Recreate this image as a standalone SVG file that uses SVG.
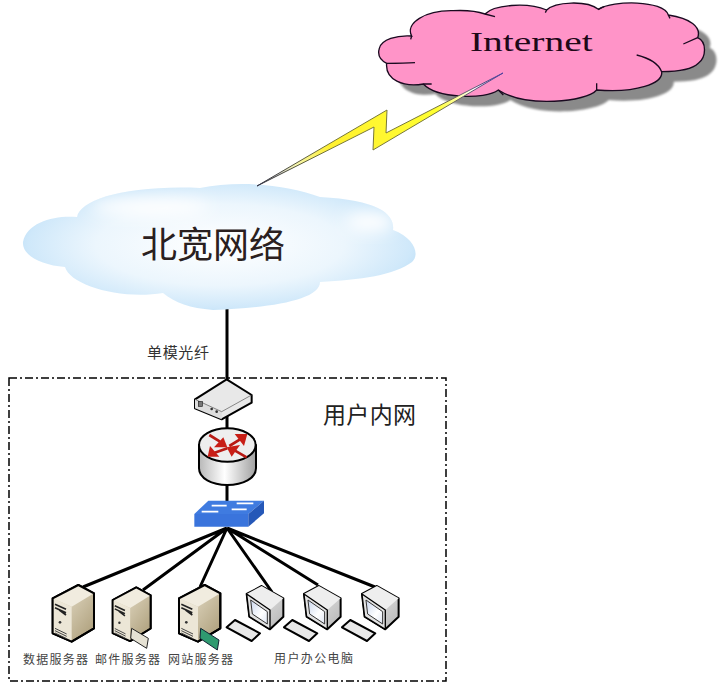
<svg xmlns="http://www.w3.org/2000/svg" width="722" height="683" viewBox="0 0 722 683">
<style>
.cjk{font-family:"Noto Sans CJK SC","Liberation Sans",sans-serif}
.lab{font-size:12px;fill:#444}
.conn{stroke:#000;stroke-width:3;fill:none;stroke-linecap:butt}
.ol{stroke:#000;stroke-width:6;stroke-linejoin:round}
</style>
<defs>
<path id="pinkShape" d="M28,145C35,118 80,105 125,108C105,70 165,30 250,32C290,30 325,35 345,42C370,15 470,5 530,30C555,5 650,0 685,28C730,0 880,0 895,45C960,55 995,80 983,113C1010,125 1010,170 985,190C965,210 920,215 875,215C880,250 800,280 680,270C650,305 470,325 385,270C345,300 200,295 160,252C100,262 45,240 50,190C30,180 22,165 28,145Z"/>
<radialGradient id="blue" cx="50%" cy="48%" r="55%">
<stop offset="0" stop-color="#ffffff"/><stop offset=".55" stop-color="#ecf6fd"/><stop offset=".85" stop-color="#cfe8fa"/><stop offset="1" stop-color="#aed8f5"/>
</radialGradient>
<linearGradient id="bolt" gradientUnits="userSpaceOnUse" x1="258" y1="186" x2="503" y2="73">
<stop offset="0" stop-color="#667"/><stop offset=".08" stop-color="#c8c8d0"/><stop offset=".16" stop-color="#f6f6b0"/><stop offset=".3" stop-color="#fff030"/><stop offset=".72" stop-color="#ffff30"/><stop offset=".88" stop-color="#fff"/><stop offset="1" stop-color="#8070c0"/>
</linearGradient>
<linearGradient id="boltS" gradientUnits="userSpaceOnUse" x1="258" y1="186" x2="503" y2="73">
<stop offset="0" stop-color="#334"/><stop offset=".3" stop-color="#77773a"/><stop offset=".7" stop-color="#77773a"/><stop offset="1" stop-color="#5040a0"/>
</linearGradient>
<linearGradient id="cyl" x1="0" x2="1" y1="0" y2="0">
<stop offset="0" stop-color="#b8b8b8"/><stop offset=".45" stop-color="#ffffff"/><stop offset="1" stop-color="#a0a0a0"/>
</linearGradient>
<linearGradient id="tan" x1="0" x2="1" y1="0" y2="1">
<stop offset="0" stop-color="#efe8d6"/><stop offset="1" stop-color="#a99a75"/>
</linearGradient>
<linearGradient id="grayR" x1="0" x2="1" y1="0" y2="1">
<stop offset="0" stop-color="#f2f2f2"/><stop offset="1" stop-color="#b5b5b5"/>
</linearGradient>
<linearGradient id="scr" x1="0" x2="1" y1="0" y2="1">
<stop offset="0" stop-color="#c9d6ee"/><stop offset=".6" stop-color="#ffffff"/><stop offset="1" stop-color="#dfe6f4"/>
</linearGradient>
<filter id="blur2" x="-5%" y="-5%" width="110%" height="110%"><feGaussianBlur stdDeviation="2.5"/></filter>
<filter id="blur8" x="-40%" y="-60%" width="180%" height="220%"><feGaussianBlur stdDeviation="8"/></filter>
<clipPath id="blueClip"><path d="M23,242C27,222 55,215 77,217C80,200 125,185 200,188C240,180 290,185 320,197C380,200 395,215 393,230C415,238 420,255 412,262C395,275 360,280 320,282C320,300 270,308 213,310C190,308 175,303 163,293C120,300 70,285 65,267C40,265 22,255 23,242Z"/></clipPath>
<g id="srv">
<path class="ol" d="M128,85L205,45L252,70L252,175L185,215L128,190Z" fill="url(#tan)"/>
<path d="M128,85L205,45L252,70L185,110Z" fill="#f1ecdf"/>
<path d="M128,85L185,110L185,215L128,190Z" fill="#ece6d6"/>
<path class="ol" d="M128,85L205,45L252,70L252,175L185,215L128,190Z" fill="none"/>
<path d="M135,103L168,118M135,113L168,128M148,120L168,135" stroke="#222" stroke-width="5" fill="none"/>
<circle cx="150" cy="157" r="4" fill="#333"/>
<path d="M135,175L170,192M135,182L170,199M135,189L170,206" stroke="#444" stroke-width="3" fill="none"/>
</g>
<g id="mon">
<path class="ol" d="M80,72L125,48L190,85L190,140L150,178L88,140Z" fill="url(#grayR)"/>
<path d="M80,72L125,48L190,85L150,120Z" fill="#eee"/>
<path d="M80,72L150,120L150,178L88,140Z" fill="#e2e2e2" stroke="#000" stroke-width="4" stroke-linejoin="round"/>
<path d="M92,90L142,125L142,162L97,132Z" fill="url(#scr)" stroke="#333" stroke-width="3"/>
<path class="ol" d="M20,172L45,150L120,190L95,213Z" fill="#e8e8e8"/>
</g>
</defs>
<rect width="722" height="683" fill="#fff"/>
<g id="connectors">
<path class="conn" d="M227,303V382M227,410V505"/>
<path class="conn" d="M227,528L83,587M227,528L143,590M227,528L200,587M227,528L272,592M227,528L318,585M227,528L375,587"/>
<rect id="boundary" x="9" y="378" width="437" height="303" fill="none" stroke="#000" stroke-width="1.5" stroke-dasharray="8 3 2 3"/>
</g>
<g id="internet-cloud" transform="translate(370 0) scale(.33333)">
<use href="#pinkShape" x="36" y="30" fill="#8a8a8a" filter="url(#blur2)"/>
<use href="#pinkShape" fill="#ff94c8" stroke="#1a0a20" stroke-width="4"/>
<path d="M125,108L122,118M345,42L375,50M530,30L526,38M685,28L702,20M895,45L900,55M983,113L940,132M800,165C840,175 865,190 875,215M680,270L680,250M385,270L400,285M160,252L185,252M50,190C75,190 105,190 135,188" fill="none" stroke="#1a0a20" stroke-width="4"/>
<text x="300" y="152" font-family="Liberation Serif,serif" font-size="85" fill="#200818" textLength="368" lengthAdjust="spacingAndGlyphs">Internet</text>
</g>
<g id="beikuan-cloud">
<g clip-path="url(#blueClip)">
<rect x="15" y="180" width="410" height="135" fill="url(#blue)"/>
<ellipse cx="150" cy="207" rx="60" ry="9" fill="#fff" filter="url(#blur8)"/>
<ellipse cx="370" cy="222" rx="25" ry="10" fill="#fff" filter="url(#blur8)"/>
</g>
<text x="141" y="258" class="cjk" font-size="36" fill="#2a2020" textLength="144" lengthAdjust="spacingAndGlyphs">北宽网络</text>
</g>
<g id="lightning">
<path d="M257,186L387,110L386,133L503,73L373,150L374,127Z" fill="url(#bolt)" stroke="url(#boltS)" stroke-width="1"/>
</g>
<text id="fiber-label" class="cjk" x="147" y="358" font-size="15" fill="#333" textLength="62">单模光纤</text>
<text id="intranet-label" class="cjk" x="323" y="423" font-size="23" fill="#222" textLength="93">用户内网</text>
<g id="modem" transform="translate(130 340) scale(.33333)">
<path class="ol" d="M195,178L290,118L365,165L365,188L275,238L195,205Z" fill="#e8e8e8"/>
<path d="M195,178L275,215L275,238L195,205Z" fill="#ddd"/>
<path d="M195,178L275,215L365,165" stroke="#555" stroke-width="2" fill="none"/>
<rect x="205" y="185" width="12" height="14" fill="#777" stroke="#222" stroke-width="2"/>
<circle cx="245" cy="207" r="4" fill="#333"/><circle cx="260" cy="215" r="4" fill="#333"/>
</g>
<g id="router" transform="translate(130 340) scale(.33333)">
<path class="ol" d="M207,315V385C207,415 245,435 292,435C339,435 378,415 378,385V315Z" fill="url(#cyl)"/>
<ellipse class="ol" cx="292" cy="315" rx="85" ry="50" fill="#eeeeee"/>
<g fill="none" stroke="#b81a14" stroke-width="8">
<path d="M298,318L335,295M292,325L250,340M238,285L270,305M350,352L315,332"/>
</g>
<g fill="#c81e16">
<path d="M352,282L314,282L342,318Z"/><path d="M233,350L240,318L268,350Z"/><path d="M292,322L252,322L280,292Z"/><path d="M290,322L330,315L305,350Z"/>
</g>
</g>
<g id="switch" transform="translate(130 340) scale(.33333)">
<path d="M193,522L235,482H402L355,522Z" fill="#3f7be0"/>
<path d="M193,522H355V560H193Z" fill="#3a74dc"/>
<path d="M355,522L402,482V520L355,560Z" fill="#2558b8"/>
<path d="M245,497H290M320,490H370M215,515H265M305,508H350" stroke="#fff" stroke-width="5" fill="none"/>
</g>
<g id="server-db" transform="translate(10 570) scale(.33333)"><use href="#srv"/></g>
<g id="server-mail" transform="translate(10 570) scale(.33333)">
<use href="#srv" transform="translate(308 52) scale(.92 .95) translate(-128 -45)"/>
<path d="M365,175L415,205L410,235L362,205Z" fill="#e6e2d4" stroke="#222" stroke-width="3"/>
</g>
<g id="server-web" transform="translate(10 570) scale(.33333)">
<use href="#srv" transform="translate(379 0)"/>
<path d="M572,175L627,210L622,240L570,205Z" fill="#2f9a70" stroke="#123" stroke-width="3"/>
</g>
<text class="cjk lab" x="23" y="664" textLength="65">数据服务器</text>
<text class="cjk lab" x="95" y="664" textLength="65">邮件服务器</text>
<text class="cjk lab" x="168" y="664" textLength="65">网站服务器</text>
<g id="pc-1" transform="translate(220 570) scale(.33333)"><use href="#mon"/></g>
<g id="pc-2" transform="translate(277.3 570) scale(.33333)"><use href="#mon"/></g>
<g id="pc-3" transform="translate(335.3 570) scale(.33333)"><use href="#mon"/></g>
<text class="cjk lab" x="274" y="663" textLength="79">用户办公电脑</text>
</svg>
